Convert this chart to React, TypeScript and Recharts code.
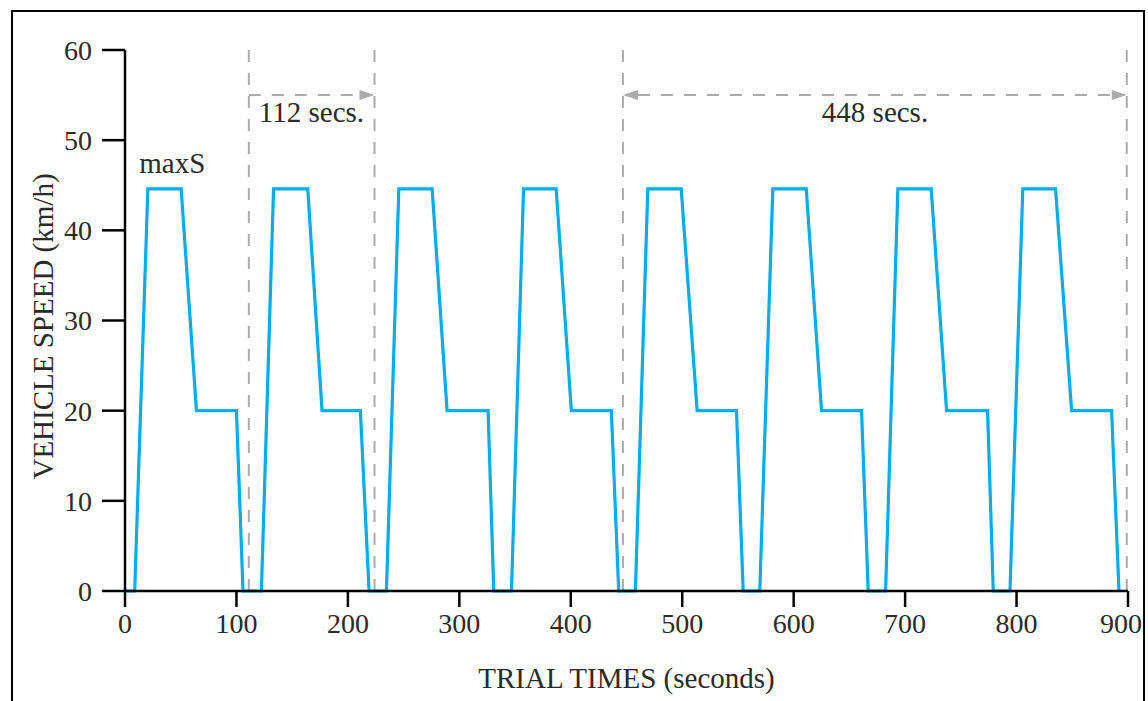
import * as React from "react";
import {
  LineChart,
  Line,
  XAxis,
  YAxis,
  ReferenceLine,
  ReferenceDot,
  Label,
} from "recharts";

// breakpoints of the speed trace (seconds / km/h)
const TIMES = [
  0, 8.7, 20.5, 50.4, 64.1, 100.0, 105.9,
  122.4, 133.3, 164.0, 176.8, 211.2, 219.0,
  234.6, 245.7, 275.6, 289.0, 325.8, 330.9,
  346.8, 357.6, 386.9, 400.5, 436.4, 443.0,
  458.0, 469.1, 499.1, 513.4, 548.7, 554.7,
  569.6, 581.3, 611.3, 625.0, 660.9, 666.9,
  682.5, 693.5, 723.4, 737.2, 774.0, 779.1,
  794.1, 805.6, 835.0, 849.4, 885.3, 891.9,
];
const SPEEDS = [
  0, 0, 44.6, 44.6, 20, 20, 0,
  0, 44.6, 44.6, 20, 20, 0,
  0, 44.6, 44.6, 20, 20, 0,
  0, 44.6, 44.6, 20, 20, 0,
  0, 44.6, 44.6, 20, 20, 0,
  0, 44.6, 44.6, 20, 20, 0,
  0, 44.6, 44.6, 20, 20, 0,
  0, 44.6, 44.6, 20, 20, 0,
];

const X_TICKS = [0, 100, 200, 300, 400, 500, 600, 700, 800, 900];
const Y_TICKS = [0, 10, 20, 30, 40, 50, 60];

// dashed markers and the span arrows
const MARKER_TIMES = [111.1, 223.9, 446.8, 898.9];
const ARROW_SPEED = 55;
const ARROW_FROM = [111.1, 446.8];
const ARROW_TO = [223.9, 898.9];
const ARROW_BOTH = [false, true];

const NOTE_TEXT = ["maxS", "112 secs.", "448 secs."];
const NOTE_TIME = [42.4, 167.3, 673];
const NOTE_SPEED = [47.5, 53.2, 53.2];

const FONT = "'Liberation Serif', 'Times New Roman', serif";
const TEXT_COLOR = "#2a2a2a";
const GREY = "#ababab";
const FONT_SIZE = 28;

const data = TIMES.map((t, i) => ({ t, v: SPEEDS[i] }));

function arrowShape(both: boolean) {
  return (props: any) => {
    const { x1, y1, x2, y2 } = props;
    const len = 15;
    const half = 5;
    return (
      <g>
        <line
          x1={both ? x1 + len : x1}
          y1={y1}
          x2={x2 - len}
          y2={y2}
          stroke={GREY}
          strokeWidth={2}
          strokeDasharray="12 11"
        />
        <polygon
          points={`${x2},${y2} ${x2 - len},${y2 - half} ${x2 - len},${y2 + half}`}
          fill={GREY}
        />
        {both && (
          <polygon
            points={`${x1},${y1} ${x1 + len},${y1 - half} ${x1 + len},${y1 + half}`}
            fill={GREY}
          />
        )}
      </g>
    );
  };
}

// last tick label sits against the frame, so it is right-aligned there
function XTick(props: any) {
  const { x, y, payload, index, visibleTicksCount } = props;
  const last = index === (visibleTicksCount ?? X_TICKS.length) - 1;
  return (
    <text
      x={last ? x + 14 : x}
      y={y + 3}
      textAnchor={last ? "end" : "middle"}
      dominantBaseline="hanging"
      fontSize={FONT_SIZE}
      fill={TEXT_COLOR}
      fontFamily={FONT}
    >
      {payload.value}
    </text>
  );
}

export default function App() {
  return (
    <div style={{ position: "absolute", left: 0, top: 0, width: 1148, height: 701, overflow: "hidden", background: "#fff" }}>
      <div
        style={{
          position: "absolute",
          left: 11,
          top: 10,
          width: 1130,
          height: 760,
          borderTop: "2px solid #000",
          borderLeft: "2px solid #000",
          borderRight: "2px solid #000",
        }}
      />
      <div style={{ position: "absolute", left: 0, top: 0 }}>
        <LineChart
          width={1148}
          height={701}
          data={data}
          margin={{ top: 50, right: 20, left: 0, bottom: 0 }}
        >
          <XAxis
            type="number"
            dataKey="t"
            domain={[0, 900]}
            ticks={X_TICKS}
            interval={0}
            height={110}
            tickSize={16}
            tickMargin={3}
            axisLine={{ stroke: "#000", strokeWidth: 2.5 }}
            tickLine={{ stroke: "#000", strokeWidth: 2.5 }}
            tick={<XTick />}
          >
            <Label
              content={(p: any) => {
                const vb = p.viewBox;
                const cx = vb.x + vb.width / 2;
                const cy = vb.y + 87;
                return (
                  <text x={cx} y={cy} textAnchor="middle" dominantBaseline="central" fontSize={29} fill={TEXT_COLOR} fontFamily={FONT}>
                    TRIAL TIMES (seconds)
                  </text>
                );
              }}
            />
          </XAxis>
          <YAxis
            type="number"
            domain={[0, 60]}
            ticks={Y_TICKS}
            interval={0}
            width={125}
            tickSize={23}
            tickMargin={10}
            axisLine={{ stroke: "#000", strokeWidth: 2.5 }}
            tickLine={{ stroke: "#000", strokeWidth: 2.5 }}
            tick={{ fontSize: FONT_SIZE, fill: TEXT_COLOR, fontFamily: FONT }}
          >
            <Label
              content={(p: any) => {
                const vb = p.viewBox;
                const cx = vb.x + 43;
                const cy = vb.y + vb.height / 2 + 6;
                return (
                  <text
                    x={cx}
                    y={cy}
                    transform={`rotate(-90 ${cx} ${cy})`}
                    textAnchor="middle"
                    dominantBaseline="central"
                    fontSize={29}
                    fill={TEXT_COLOR}
                    fontFamily={FONT}
                  >
                    VEHICLE SPEED (km/h)
                  </text>
                );
              }}
            />
          </YAxis>
          {MARKER_TIMES.map((t) => (
            <ReferenceLine key={`m-${t}`} x={t} stroke={GREY} strokeWidth={2} strokeDasharray="12 11" />
          ))}
          {ARROW_FROM.map((from, i) => (
            <ReferenceLine
              key={`a-${i}`}
              segment={[
                { x: from, y: ARROW_SPEED },
                { x: ARROW_TO[i], y: ARROW_SPEED },
              ]}
              stroke={GREY}
              shape={arrowShape(ARROW_BOTH[i])}
            />
          ))}
          {NOTE_TEXT.map((txt, i) => (
            <ReferenceDot
              key={`n-${i}`}
              x={NOTE_TIME[i]}
              y={NOTE_SPEED[i]}
              r={0}
              fill="none"
              stroke="none"
              label={
                <Label value={txt} position="center" fontSize={29} fill={TEXT_COLOR} fontFamily={FONT} />
              }
            />
          ))}
          <Line
            type="linear"
            dataKey="v"
            stroke="#00aeef"
            strokeWidth={3.2}
            dot={false}
            activeDot={false}
            isAnimationActive={false}
          />
        </LineChart>
      </div>
    </div>
  );
}
